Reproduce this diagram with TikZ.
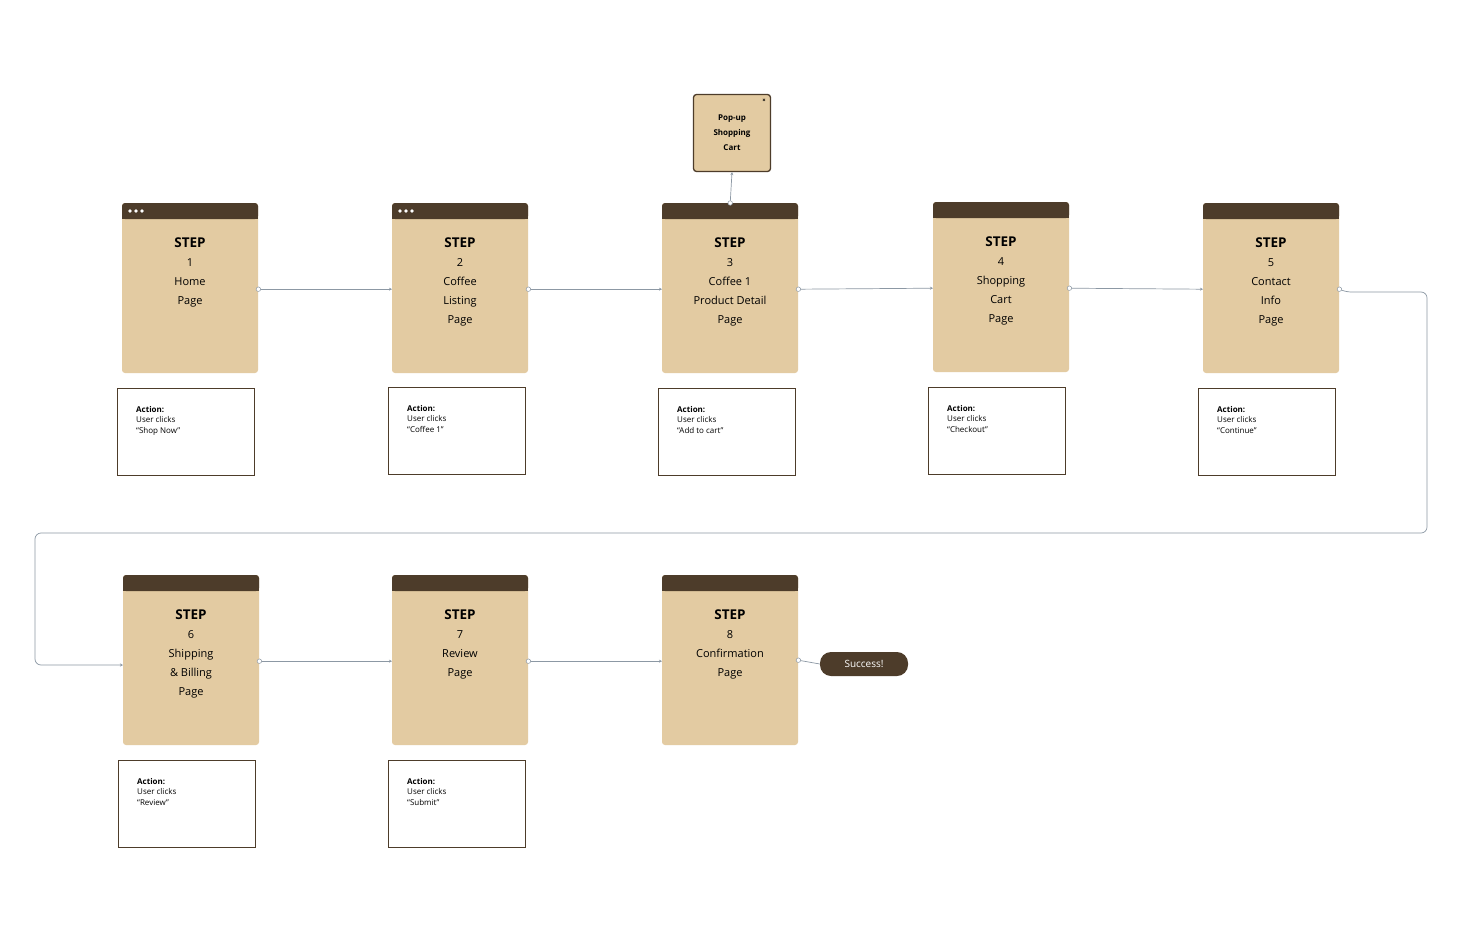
\documentclass[tikz,border=0pt]{standalone}
\usepackage{fontspec}
\setmainfont{Open Sans}
\usetikzlibrary{arrows.meta}
\definecolor{dk}{HTML}{4D3C2A}
\definecolor{bg}{HTML}{E3CBA2}
\definecolor{ln}{HTML}{8C98A4}
\tikzset{x=1pt,y=-1pt,
 conn/.style={draw=ln,line width=0.7pt,-{Stealth[length=3pt,width=3pt]}},
 dotc/.style={circle,draw=ln,fill=white,inner sep=1.6pt,line width=0.5pt},
 actbox/.style={draw=dk,line width=1.3pt,minimum width=137pt,minimum height=87pt,inner sep=0pt},
 acttxt/.style={align=left,font=\fontsize{8}{10.5}\selectfont,anchor=north west,inner sep=0pt}}
\newcommand\stepbox[4]{% x y name text
 \fill[bg,rounded corners=3pt] (#1,#2) rectangle ++(136,170);
 \fill[dk,rounded corners=3pt] (#1,#2) rectangle ++(136,16);
 \fill[dk] (#1,#2+8) rectangle ++(136,8);
 \node[inner sep=0pt,minimum width=136pt,minimum height=170pt,anchor=north west] (#3) at (#1,#2) {};
 \node[anchor=north,align=center,inner sep=0pt,font=\fontsize{11}{19}\selectfont] at (#1+68,#2+35) {\fontsize{13.5}{24}\selectfont\bfseries #4};
}
\begin{document}
\begin{tikzpicture}
\useasboundingbox (0,0) rectangle (1483,950);
\fill[white] (0,0) rectangle (1483,950);
\stepbox{122}{203}{s1}{STEP\\1\\\mdseries\fontsize{11}{19}\selectfont Home\\Page}
\stepbox{392}{203}{s2}{STEP\\2\\\mdseries\fontsize{11}{19}\selectfont Coffee\\Listing\\Page}
\stepbox{662}{203}{s3}{STEP\\3\\\mdseries\fontsize{11}{19}\selectfont Coffee 1\\Product Detail\\Page}
\stepbox{933}{202}{s4}{STEP\\4\\\mdseries\fontsize{11}{19}\selectfont Shopping\\Cart\\Page}
\stepbox{1203}{203}{s5}{STEP\\5\\\mdseries\fontsize{11}{19}\selectfont Contact\\Info\\Page}
\stepbox{123}{575}{s6}{STEP\\6\\\mdseries\fontsize{11}{19}\selectfont Shipping\\\& Billing\\Page}
\stepbox{392}{575}{s7}{STEP\\7\\\mdseries\fontsize{11}{19}\selectfont Review\\Page}
\stepbox{662}{575}{s8}{STEP\\8\\\mdseries\fontsize{11}{19}\selectfont Confirmation\\Page}
\foreach \x in {122,392}{\foreach \d in {6,12,18}{\fill[white] (\x+\d+2,211) circle (1.8pt);}}
% actions
\foreach \n/\x/\y/\t in {a1/117/388/{“Shop Now”},a2/388/387/{“Coffee 1”},a3/658/388/{“Add to cart”},a4/928/387/{“Checkout”},a5/1198/388/{“Continue”},a6/118/760/{“Review”},a7/388/760/{“Submit”}}{
 \node[actbox,anchor=north west] (\n) at (\x,\y) {};
 \node[acttxt] at (\x+19,\y+18) {\textbf{Action:}\\User clicks\\\t};
}
% popup
\node[draw=dk,fill=bg,line width=1.3pt,rounded corners=3pt,minimum width=77pt,minimum height=77pt,align=center,font=\fontsize{8}{15}\selectfont\bfseries] (pop) at (732,133) {Pop-up\\Shopping\\Cart};
\node[font=\fontsize{6}{6}\selectfont\bfseries,inner sep=0pt] at (764,101) {×};
\node[fill=dk,text=white,rounded corners=11pt,minimum width=88pt,minimum height=24pt,inner sep=0pt,font=\fontsize{10}{12}\selectfont] (succ) at (864,664) {Success!};
% connectors
\foreach \a/\b in {s1/s2,s2/s3,s3/s4,s4/s5,s6/s7,s7/s8}{
 \draw[conn] ([yshift=-1pt]\a.east) -- ([yshift=-1pt]\b.west);
 \node[dotc] at ([yshift=-1pt]\a.east) {};}
\draw[conn] (s3.north) -- (pop.south);
\node[dotc] at (s3.north) {};
\draw[conn,-] (s8.east) -- (succ.west);
\node[dotc] at (s8.east) {};
\coordinate (c1) at (1427,292);
\coordinate (c2) at (1427,533);
\coordinate (c3) at (35,533);
\coordinate (c4) at (35,665);
\draw[conn,rounded corners=6pt] ([yshift=-1pt]s5.east) -- (1345,292) -- (c1) -- (c2) -- (c3) -- (c4) -- (s6.west|-c4);
\node[dotc] at ([yshift=-1pt]s5.east) {};
\end{tikzpicture}
\end{document}
